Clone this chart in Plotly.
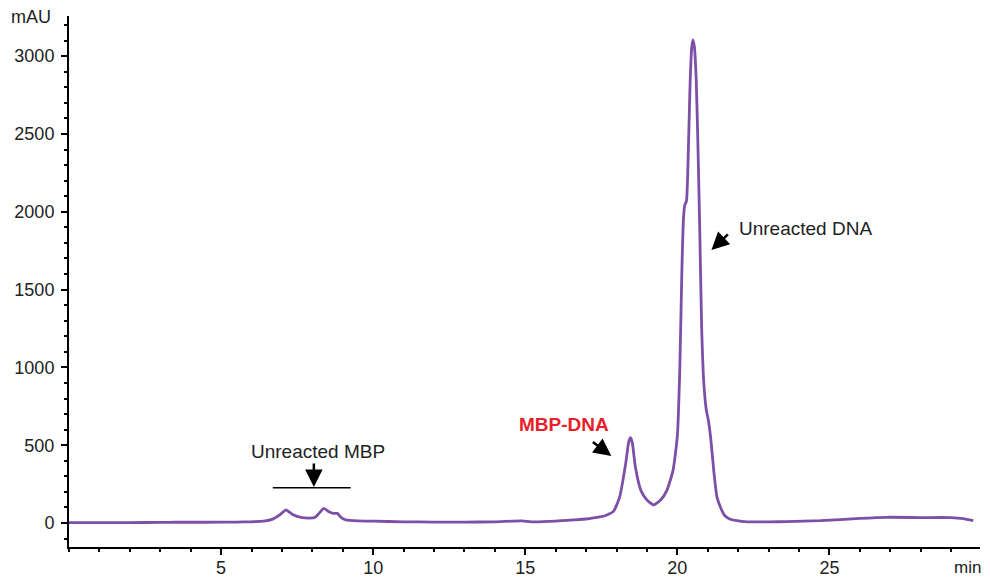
import plotly.graph_objects as go

time_min = [0, 1, 2, 3, 3.5, 4.5, 5.5, 6.0, 6.4, 6.7, 6.95, 7.13, 7.35, 7.62, 7.9, 8.08, 8.22, 8.38,
            8.55, 8.68, 8.82, 8.95, 9.1, 9.5, 10, 11, 12, 13, 14, 14.9, 15.2, 16, 16.6, 17.0, 17.3,
            17.6, 17.9, 18.1, 18.3, 18.4, 18.46, 18.52, 18.62, 18.8, 19.0, 19.22, 19.45, 19.66, 19.86, 20.0,
            20.08, 20.15, 20.2, 20.24, 20.3, 20.36, 20.42, 20.47, 20.51, 20.56, 20.62, 20.68, 20.74,
            20.8, 20.87, 20.95, 21.02, 21.1, 21.2, 21.3, 21.42, 21.55, 21.7, 21.96, 22.3, 23, 23.6,
            24.7, 26.0, 26.9, 28.0, 29.0, 29.4, 29.73]
absorbance_mau = [2, 2, 3, 4, 5, 5, 6, 8, 12, 25, 55, 85, 55, 37, 32, 35, 62, 94,
                  72, 62, 62, 35, 20, 14, 12, 8, 6, 6, 8, 14, 8, 12, 20, 26, 35,
                  45, 75, 165, 380, 520, 548, 515, 360, 210, 148, 116, 148, 212, 340, 560,
                  985, 1630, 1950, 2040, 2070, 2380, 2830, 3050, 3105, 3060, 2850, 2400, 1850,
                  1250, 900, 730, 660, 540, 330, 170, 100, 50, 28, 15, 8, 8, 9,
                  15, 30, 37, 35, 35, 28, 15]

x_tick_vals = [5, 10, 15, 20, 25]
y_tick_vals = [0, 500, 1000, 1500, 2000, 2500, 3000]

FONT = "Liberation Sans, Arial, sans-serif"
LINE_COLOR = "#7E4FA6"
TXT = "#222222"

fig = go.Figure()
fig.add_trace(go.Scatter(x=time_min, y=absorbance_mau, mode="lines",
                         line=dict(color=LINE_COLOR, width=2.8, shape="spline", smoothing=0.5),
                         hoverinfo="skip", showlegend=False))

# page body has an 8px margin, so the figure is sized to fill the rest of the window
fig.update_layout(
    template="none",
    width=982, height=572,
    margin=dict(l=61, r=10, t=8, b=33, autoexpand=False),
    paper_bgcolor="white", plot_bgcolor="white",
    font=dict(family=FONT, size=18, color=TXT),
    xaxis=dict(range=[0, 29.95], automargin=False, showgrid=False, zeroline=False, showline=True,
               linecolor="black", linewidth=2, ticks="outside", ticklen=6, tickwidth=2,
               tickcolor="black", tickmode="array", tickvals=x_tick_vals,
               ticklabelstandoff=-3, tickfont=dict(size=18, color=TXT),
               minor=dict(ticks="outside", ticklen=3, tickwidth=2, tickcolor="black",
                          tickmode="linear", tick0=0, dtick=1)),
    yaxis=dict(range=[-154, 3258], automargin=False, showgrid=False, zeroline=False, showline=True,
               linecolor="black", linewidth=2, ticks="outside", ticklen=6, tickwidth=2,
               tickcolor="black", tickmode="array", tickvals=y_tick_vals,
               ticklabelstandoff=3, tickfont=dict(size=18, color=TXT),
               minor=dict(ticks="outside", ticklen=3, tickwidth=2, tickcolor="black",
                          tickmode="linear", tick0=0, dtick=100)),
)

# horizontal bar under "Unreacted MBP"
fig.add_shape(type="line", x0=6.7, x1=9.26, y0=226, y1=226, xref="x", yref="y",
              line=dict(color="black", width=1.5))

annos = [
    dict(x=8.05, y=232, ax=0, ay=-25, text="", showarrow=True),
    dict(x=17.83, y=431, ax=-20, ay=-15, text="", showarrow=True),
    dict(x=21.12, y=1755, ax=18, ay=-17, text="", showarrow=True),
]
for a in annos:
    fig.add_annotation(xref="x", yref="y", axref="pixel", ayref="pixel",
                       arrowhead=2, arrowsize=1.4, arrowwidth=2.5, arrowcolor="black", **a)

fig.add_annotation(x=8.2, y=460, xref="x", yref="y", text="Unreacted MBP", showarrow=False,
                   font=dict(size=19, color=TXT, family=FONT))
fig.add_annotation(x=16.26, y=636, xref="x", yref="y", text="<b>MBP-DNA</b>", showarrow=False,
                   font=dict(size=19, color="#E8202A", family=FONT))
fig.add_annotation(x=21.97, y=1890, xref="x", yref="y", text="Unreacted DNA", showarrow=False,
                   xanchor="left", font=dict(size=19, color=TXT, family=FONT))

fig.add_annotation(x=-0.042, y=0.998, xref="paper", yref="paper", text="mAU", showarrow=False,
                   xanchor="center", yanchor="middle", font=dict(size=18, color=TXT, family=FONT))
fig.add_annotation(x=0.986, y=-0.038, xref="paper", yref="paper", text="min", showarrow=False,
                   xanchor="center", yanchor="middle", font=dict(size=17, color=TXT, family=FONT))

fig.write_html("out.html")
